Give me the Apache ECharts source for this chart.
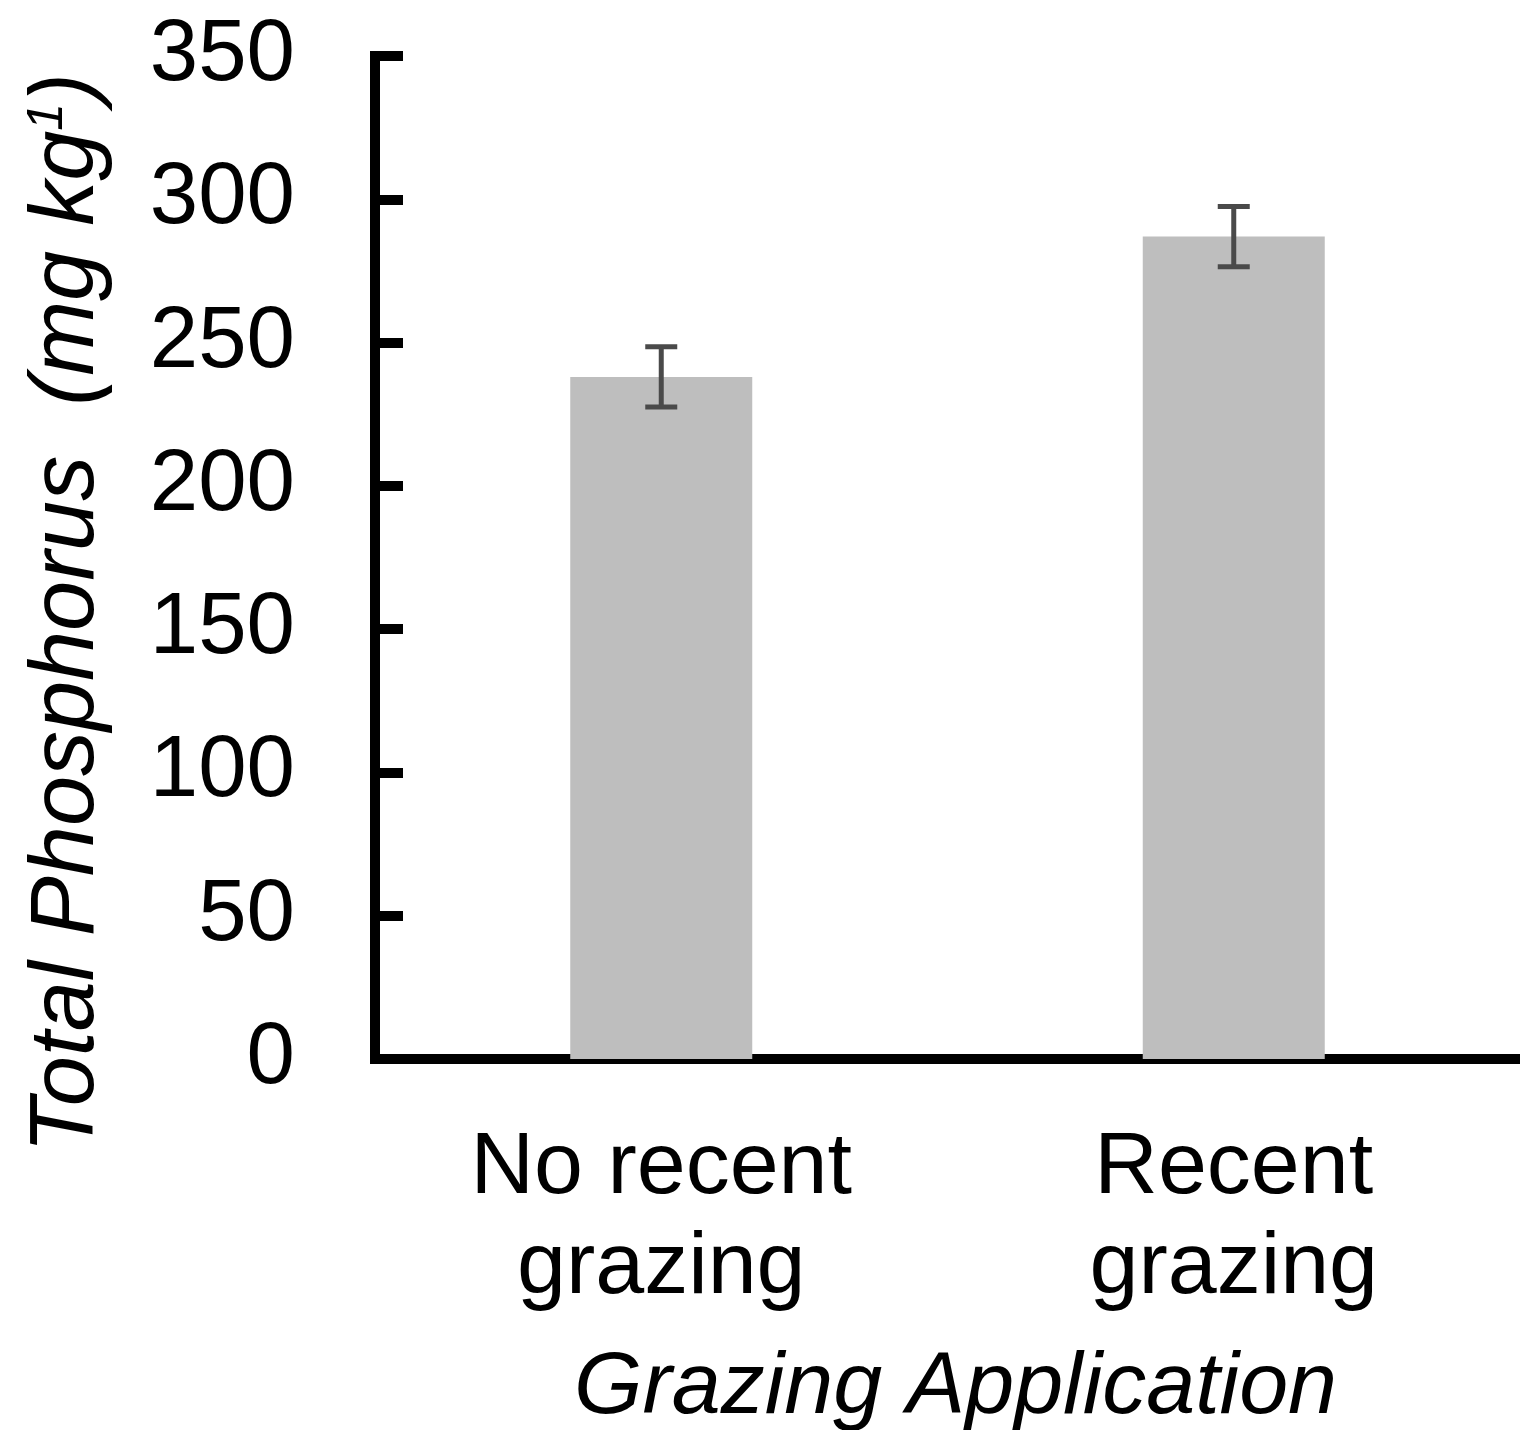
<!DOCTYPE html>
<html>
<head>
<meta charset="utf-8">
<script src="https://cdn.jsdelivr.net/npm/echarts@6/dist/echarts.min.js"></script>
<style>
  html, body { margin: 0; padding: 0; background: #ffffff; }
  #chart { width: 1520px; height: 1430px; }
</style>
</head>
<body>
<div id="chart"></div>
<script>
// Grazing treatments and mean total phosphorus (mg/kg) with standard error
var categories = ['No recent\ngrazing', 'Recent\ngrazing'];
var meanValues = [238, 287];
var errorValues = [10.5, 10.5];
var yTicks = { min: 0, max: 350, interval: 50 };

var FONT = '"Liberation Sans", Arial, Helvetica, sans-serif';

var chart = echarts.init(document.getElementById('chart'), null, { renderer: 'canvas', width: 1520, height: 1430 });

var errorData = meanValues.map(function (v, i) {
  return [i, v - errorValues[i], v + errorValues[i]];
});

var option = {
  backgroundColor: '#ffffff',
  animation: false,
  grid: { left: 375, right: 0, top: 56, bottom: 371, containLabel: false, outerBoundsMode: 'none' },
  xAxis: {
    type: 'category',
    data: categories,
    name: 'Grazing Application',
    nameLocation: 'middle',
    nameGap: 286,
    nameTextStyle: { fontFamily: FONT, fontSize: 88, fontStyle: 'italic', color: '#000', padding: [0, 0, 0, 16] },
    axisLine: { show: true, lineStyle: { color: '#000', width: 10, cap: 'square' } },
    axisTick: { show: false },
    axisLabel: { fontFamily: FONT, fontSize: 88, color: '#000', lineHeight: 100, margin: 60 },
    splitLine: { show: false }
  },
  yAxis: {
    type: 'value',
    min: yTicks.min,
    max: yTicks.max,
    interval: yTicks.interval,
    axisLine: { show: true, lineStyle: { color: '#000', width: 10, cap: 'square' } },
    axisTick: { show: true, inside: true, length: 28, lineStyle: { color: '#000', width: 10 } },
    axisLabel: { fontFamily: FONT, fontSize: 87, color: '#000', margin: 80 },
    splitLine: { show: false }
  },
  series: [
    {
      type: 'bar',
      data: meanValues,
      barWidth: 182,
      itemStyle: { color: '#bebebe' },
      z: 1
    },
    {
      type: 'custom',
      data: errorData,
      z: 5,
      renderItem: function (params, api) {
        var x = api.value(0);
        var lo = api.coord([x, api.value(1)]);
        var hi = api.coord([x, api.value(2)]);
        var half = 16;
        var style = { stroke: '#4a4a4a', lineWidth: 5, fill: null };
        return {
          type: 'group',
          children: [
            { type: 'line', shape: { x1: hi[0], y1: hi[1], x2: lo[0], y2: lo[1] }, style: style },
            { type: 'line', shape: { x1: hi[0] - half, y1: hi[1], x2: hi[0] + half, y2: hi[1] }, style: style },
            { type: 'line', shape: { x1: lo[0] - half, y1: lo[1], x2: lo[0] + half, y2: lo[1] }, style: style }
          ]
        };
      }
    }
  ],
  graphic: [
    {
      type: 'text',
      x: 68,
      y: 613,
      rotation: Math.PI / 2,
      style: {
        text: '{m|Total Phosphorus  (mg kg}{s|1}{m|)}',
        textAlign: 'center',
        textVerticalAlign: 'middle',
        rich: {
          m: { fontFamily: FONT, fontSize: 90, fontStyle: 'italic', fill: '#000' },
          s: { fontFamily: FONT, fontSize: 50, fontStyle: 'italic', fill: '#000', verticalAlign: 'top', padding: [0, 0, 30, 0] }
        }
      }
    }
  ]
};

chart.setOption(option);
</script>
</body>
</html>
